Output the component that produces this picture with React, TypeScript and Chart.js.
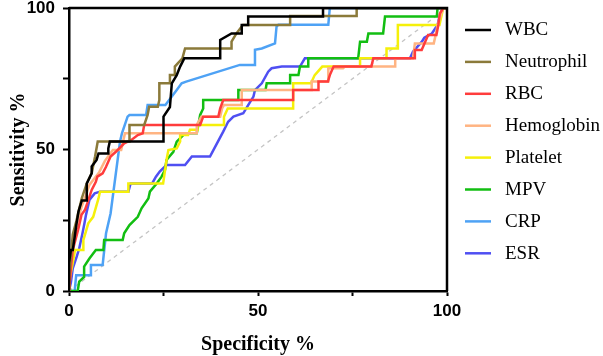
import React, { useEffect, useRef } from "react";
import { Chart, registerables } from "chart.js";

Chart.register(...registerables);

const seriesNames = ["WBC", "Neutrophil", "RBC", "Hemoglobin", "Platelet", "MPV", "CRP", "ESR"];
const seriesColors = ["#000000", "#8B7A3A", "#FF3C3C", "#FFB482", "#F5F00A", "#12BE12", "#4EA2F5", "#4F4FF2"];

const wbcX = [0, 0, 0.5, 1, 1.6, 1.9, 2.5, 3.4, 4.7, 4.7, 6, 6, 7.3, 7.8, 10.4, 10.4, 10.8, 25, 25, 26.7, 27.2, 28.5, 29.4, 30.5, 40, 40, 43, 45.7, 45.7, 47.4, 47.4, 67.2, 67.2, 100];
const wbcY = [0, 10, 14.5, 14.5, 20, 23, 28, 32, 32, 38, 41.6, 44, 46.3, 48.6, 48.6, 50.4, 52.8, 52.8, 61.6, 65, 73.4, 76.3, 79.3, 82.2, 82.2, 88.7, 91, 91, 94, 94, 97, 97, 100, 100];

const neuX = [0, 0, 0.5, 1, 2, 2.5, 3.4, 4.7, 6, 6.9, 7.6, 16, 16, 19.9, 20.8, 21.2, 23.5, 23.9, 23.9, 26.7, 26.7, 28, 28, 30, 30.7, 43, 43, 44.3, 46, 58.5, 58.5, 76.1, 76.1, 100];
const neuY = [0, 5, 12, 20, 25, 28, 32.8, 38, 41.6, 47.5, 52.8, 52.8, 58.7, 58.7, 62.2, 65.1, 65.1, 67.5, 73.4, 73.4, 76.3, 76.3, 79.3, 82.2, 85.7, 85.7, 88.1, 91, 94, 94, 97.2, 97.2, 100, 100];

const rbcX = [0, 0.5, 1, 2.4, 3.3, 4.2, 5.1, 6, 7.1, 7.5, 8.9, 9.8, 11, 12.4, 14.6, 16.5, 18.2, 19.5, 19.9, 34.7, 35.5, 39.5, 40, 40.8, 59.3, 59.3, 66, 66, 68.5, 69, 70, 80, 80.5, 91.5, 91.5, 93.3, 95, 97.2, 97.7, 98.1, 99, 100];
const rbcY = [0, 8, 14.5, 21.6, 26.9, 28.6, 32, 35.7, 38.6, 40.4, 41.6, 43.9, 47.5, 49.2, 52.2, 53.4, 55.1, 55.7, 58.7, 58.7, 61.6, 61.6, 64.5, 67.5, 67.5, 71, 71, 74, 74, 76.3, 79.3, 79.3, 82.2, 82.2, 85.2, 85.2, 90.5, 90.5, 94, 98, 100, 100];

const hgbX = [0, 0.3, 1, 2.5, 3.4, 4.5, 5.4, 8, 9.5, 11.6, 13.8, 14.8, 33.8, 33.8, 35, 40, 40.5, 41, 45.7, 45.7, 64.2, 64.2, 68.6, 68.6, 72.5, 73, 86.3, 86.3, 91, 91.5, 96.5, 97, 97.5, 98.5, 99, 100];
const hgbY = [0, 8, 16, 26, 30, 34, 37.5, 42, 46, 49.8, 49.8, 55.7, 55.7, 58.7, 61.6, 61.6, 64.5, 65.7, 65.7, 71, 71, 74, 74, 78.7, 78.7, 79.3, 79.3, 82.2, 82.2, 87.5, 87.5, 90.5, 94, 98, 100, 100];

const pltX = [0, 0.3, 1, 1.6, 3.8, 3.8, 5.1, 6.4, 7.8, 8.2, 15.7, 15.7, 24.9, 25.8, 26.3, 28.5, 29.4, 29.4, 31.5, 32, 34, 34, 41, 41, 42, 59.3, 59.3, 64, 65, 67, 77, 77, 84, 84, 87, 87, 98, 99, 100];
const pltY = [0, 5, 10, 14.5, 14.5, 18, 23.9, 26.2, 32.7, 35.1, 35.1, 38, 38, 46.3, 49.8, 50.4, 52.8, 55.1, 55.1, 57, 57, 58.7, 58.7, 61.6, 64.5, 64.5, 73.4, 73.4, 76.3, 79.3, 79.3, 82.2, 82.2, 85.7, 85.7, 94, 94, 100, 100];

const mpvX = [0, 2.3, 2.7, 4, 4, 5.4, 7.1, 9.1, 9.3, 14.2, 14.6, 16, 18.2, 19.2, 21, 21.4, 23.2, 24.5, 25.4, 25.8, 27.6, 28.5, 30.7, 33.8, 34.7, 35.5, 35.5, 44.8, 44.8, 52, 52.3, 58.5, 58.5, 60.7, 61.1, 63.3, 63.3, 76.5, 77, 78.8, 79.2, 83.1, 83.6, 97.3, 97.5, 100];
const mpvY = [0, 0, 3.3, 5, 8.6, 11.5, 14.5, 14.5, 18, 18, 20.4, 23.3, 26.2, 29.2, 32.7, 35.1, 38, 40.4, 42.8, 46.3, 49.2, 52.8, 55.7, 55.7, 62.2, 64.5, 67.5, 67.5, 71, 71, 73.4, 73.4, 76.3, 76.3, 79.3, 79.3, 82.2, 82.2, 88.1, 88.1, 91, 91, 97, 97, 100, 100];

const crpX = [0, 1.5, 1.9, 5.8, 5.8, 8.9, 9.8, 11, 13.5, 14, 15.5, 16, 20.4, 20.8, 25.5, 28.5, 29.8, 31, 45.2, 49.2, 49.2, 51, 54.5, 54.9, 55.4, 68.6, 69, 100];
const crpY = [0, 0, 5.6, 5.6, 9.2, 9.2, 20.4, 27.4, 52.8, 55.7, 61.6, 62.2, 62.2, 65.7, 65.7, 71, 73.4, 74, 79.9, 79.9, 85.2, 85.7, 87.5, 93.4, 94.1, 94.1, 100, 100];

const esrX = [0, 0.5, 1, 2, 2.7, 3.5, 4.1, 4.5, 5.4, 6.8, 8.2, 15.7, 16.3, 22, 23, 24, 25.8, 30.7, 32.5, 37.3, 38.2, 40.8, 42.1, 43.5, 46.1, 47.4, 48.8, 49.2, 51, 52.7, 53.6, 56.3, 61.1, 62.4, 90.2, 91, 93.3, 94, 96, 97.5, 98.2, 99, 100];
const esrY = [0, 3, 8, 12, 15, 20, 24, 26.9, 32.2, 34.5, 35.1, 35.1, 38, 38, 40.4, 42.2, 44.5, 44.5, 47.5, 47.5, 49.8, 56.3, 59.8, 61.6, 62.8, 65.7, 68.7, 71, 73.4, 77.5, 78.7, 79.3, 79.3, 82.2, 82.2, 84.6, 88, 89.5, 91, 94, 98, 100, 100];

const refX = [0, 100];
const refY = [0, 100];

const seriesX = [wbcX, neuX, rbcX, hgbX, pltX, mpvX, crpX, esrX];
const seriesY = [wbcY, neuY, rbcY, hgbY, pltY, mpvY, crpY, esrY];

const xTickLabels: Record<number, string> = { 0: "0", 50: "50", 100: "100" };
const yTickLabels: Record<number, string> = { 0: "0", 50: "50", 100: "100" };

const toPoints = (xs: number[], ys: number[]) => xs.map((x, i) => ({ x, y: ys[i] }));

const sideLegend = {
  id: "sideLegend",
  afterDraw(chart: any) {
    const ctx = chart.ctx;
    const x0 = chart.chartArea.right + 18;
    const top = chart.chartArea.top + 22;
    ctx.save();
    ctx.font = '19px "Liberation Serif", "Times New Roman", serif';
    ctx.textBaseline = "middle";
    ctx.textAlign = "left";
    seriesNames.forEach((name, i) => {
      const y = top + i * 31.9;
      ctx.strokeStyle = seriesColors[i];
      ctx.lineWidth = 2.5;
      ctx.beginPath();
      ctx.moveTo(x0, y);
      ctx.lineTo(x0 + 26, y);
      ctx.stroke();
      ctx.fillStyle = "#000";
      ctx.fillText(name, x0 + 40, y + 0.5);
    });
    ctx.restore();
  },
};

const frame = {
  id: "frame",
  afterDatasetsDraw(chart: any) {
    const { ctx, chartArea } = chart;
    ctx.save();
    ctx.strokeStyle = "#000";
    ctx.lineWidth = 2.5;
    ctx.beginPath();
    ctx.moveTo(chartArea.left, chartArea.top);
    ctx.lineTo(chartArea.right, chartArea.top);
    ctx.lineTo(chartArea.right, chartArea.bottom);
    ctx.stroke();
    ctx.restore();
  },
};

export default function App() {
  const ref = useRef<HTMLCanvasElement | null>(null);
  useEffect(() => {
    if (!ref.current) return;
    const datasets: any[] = seriesNames.map((name, i) => ({
      label: name,
      data: toPoints(seriesX[i], seriesY[i]),
      borderColor: seriesColors[i],
      backgroundColor: seriesColors[i],
      borderWidth: 2.5,
      pointRadius: 0,
      showLine: true,
      tension: 0,
    }));
    datasets.push({
      label: "ref",
      data: toPoints(refX, refY),
      borderColor: "#c4c4c4",
      borderWidth: 1.3,
      borderDash: [4, 4],
      pointRadius: 0,
      showLine: true,
    });
    const chart = new Chart(ref.current, {
      type: "scatter",
      data: { datasets },
      plugins: [sideLegend, frame],
      options: {
        responsive: false,
        animation: false,
        layout: { padding: { left: 0, top: 8, right: 156, bottom: 0 } },
        plugins: { legend: { display: false }, tooltip: { enabled: false } },
        scales: {
          x: {
            type: "linear",
            min: 0,
            max: 100,
            afterFit: (s: any) => { s.height = 65; },
            ticks: {
              stepSize: 25,
              color: "#000",
              padding: 5,
              maxRotation: 0,
              font: { family: '"Liberation Sans", Arial, sans-serif', size: 17, weight: "bold" },
              callback: (v: any) => xTickLabels[v] ?? "",
            },
            grid: { drawOnChartArea: false, drawTicks: true, tickLength: 5, tickColor: "#000", tickWidth: 2 },
            border: { display: true, color: "#000", width: 2.5 },
            title: {
              display: true,
              text: "Specificity %",
              color: "#000",
              padding: { top: 0, bottom: -1 },
              font: { family: '"Liberation Serif", "Times New Roman", serif', size: 20, weight: "bold" },
            },
          },
          y: {
            type: "linear",
            min: 0,
            max: 100,
            afterFit: (s: any) => { s.width = 69; s.paddingTop = 0; s.paddingBottom = 0; },
            ticks: {
              stepSize: 25,
              color: "#000",
              padding: 8,
              font: { family: '"Liberation Sans", Arial, sans-serif', size: 17, weight: "bold" },
              callback: (v: any) => yTickLabels[v] ?? "",
            },
            grid: { drawOnChartArea: false, drawTicks: true, tickLength: 6, tickColor: "#000", tickWidth: 2 },
            border: { display: true, color: "#000", width: 2.5 },
            title: {
              display: true,
              text: "Sensitivity %",
              color: "#000",
              padding: { top: 7, bottom: 0 },
              font: { family: '"Liberation Serif", "Times New Roman", serif', size: 20, weight: "bold" },
            },
          },
        },
      },
    });
    return () => chart.destroy();
  }, []);
  return (
    <div style={{ position: "fixed", left: 0, top: 0, width: 603, height: 356, background: "#fff" }}>
      <canvas ref={ref} width={603} height={356} style={{ display: "block" }} />
    </div>
  );
}
